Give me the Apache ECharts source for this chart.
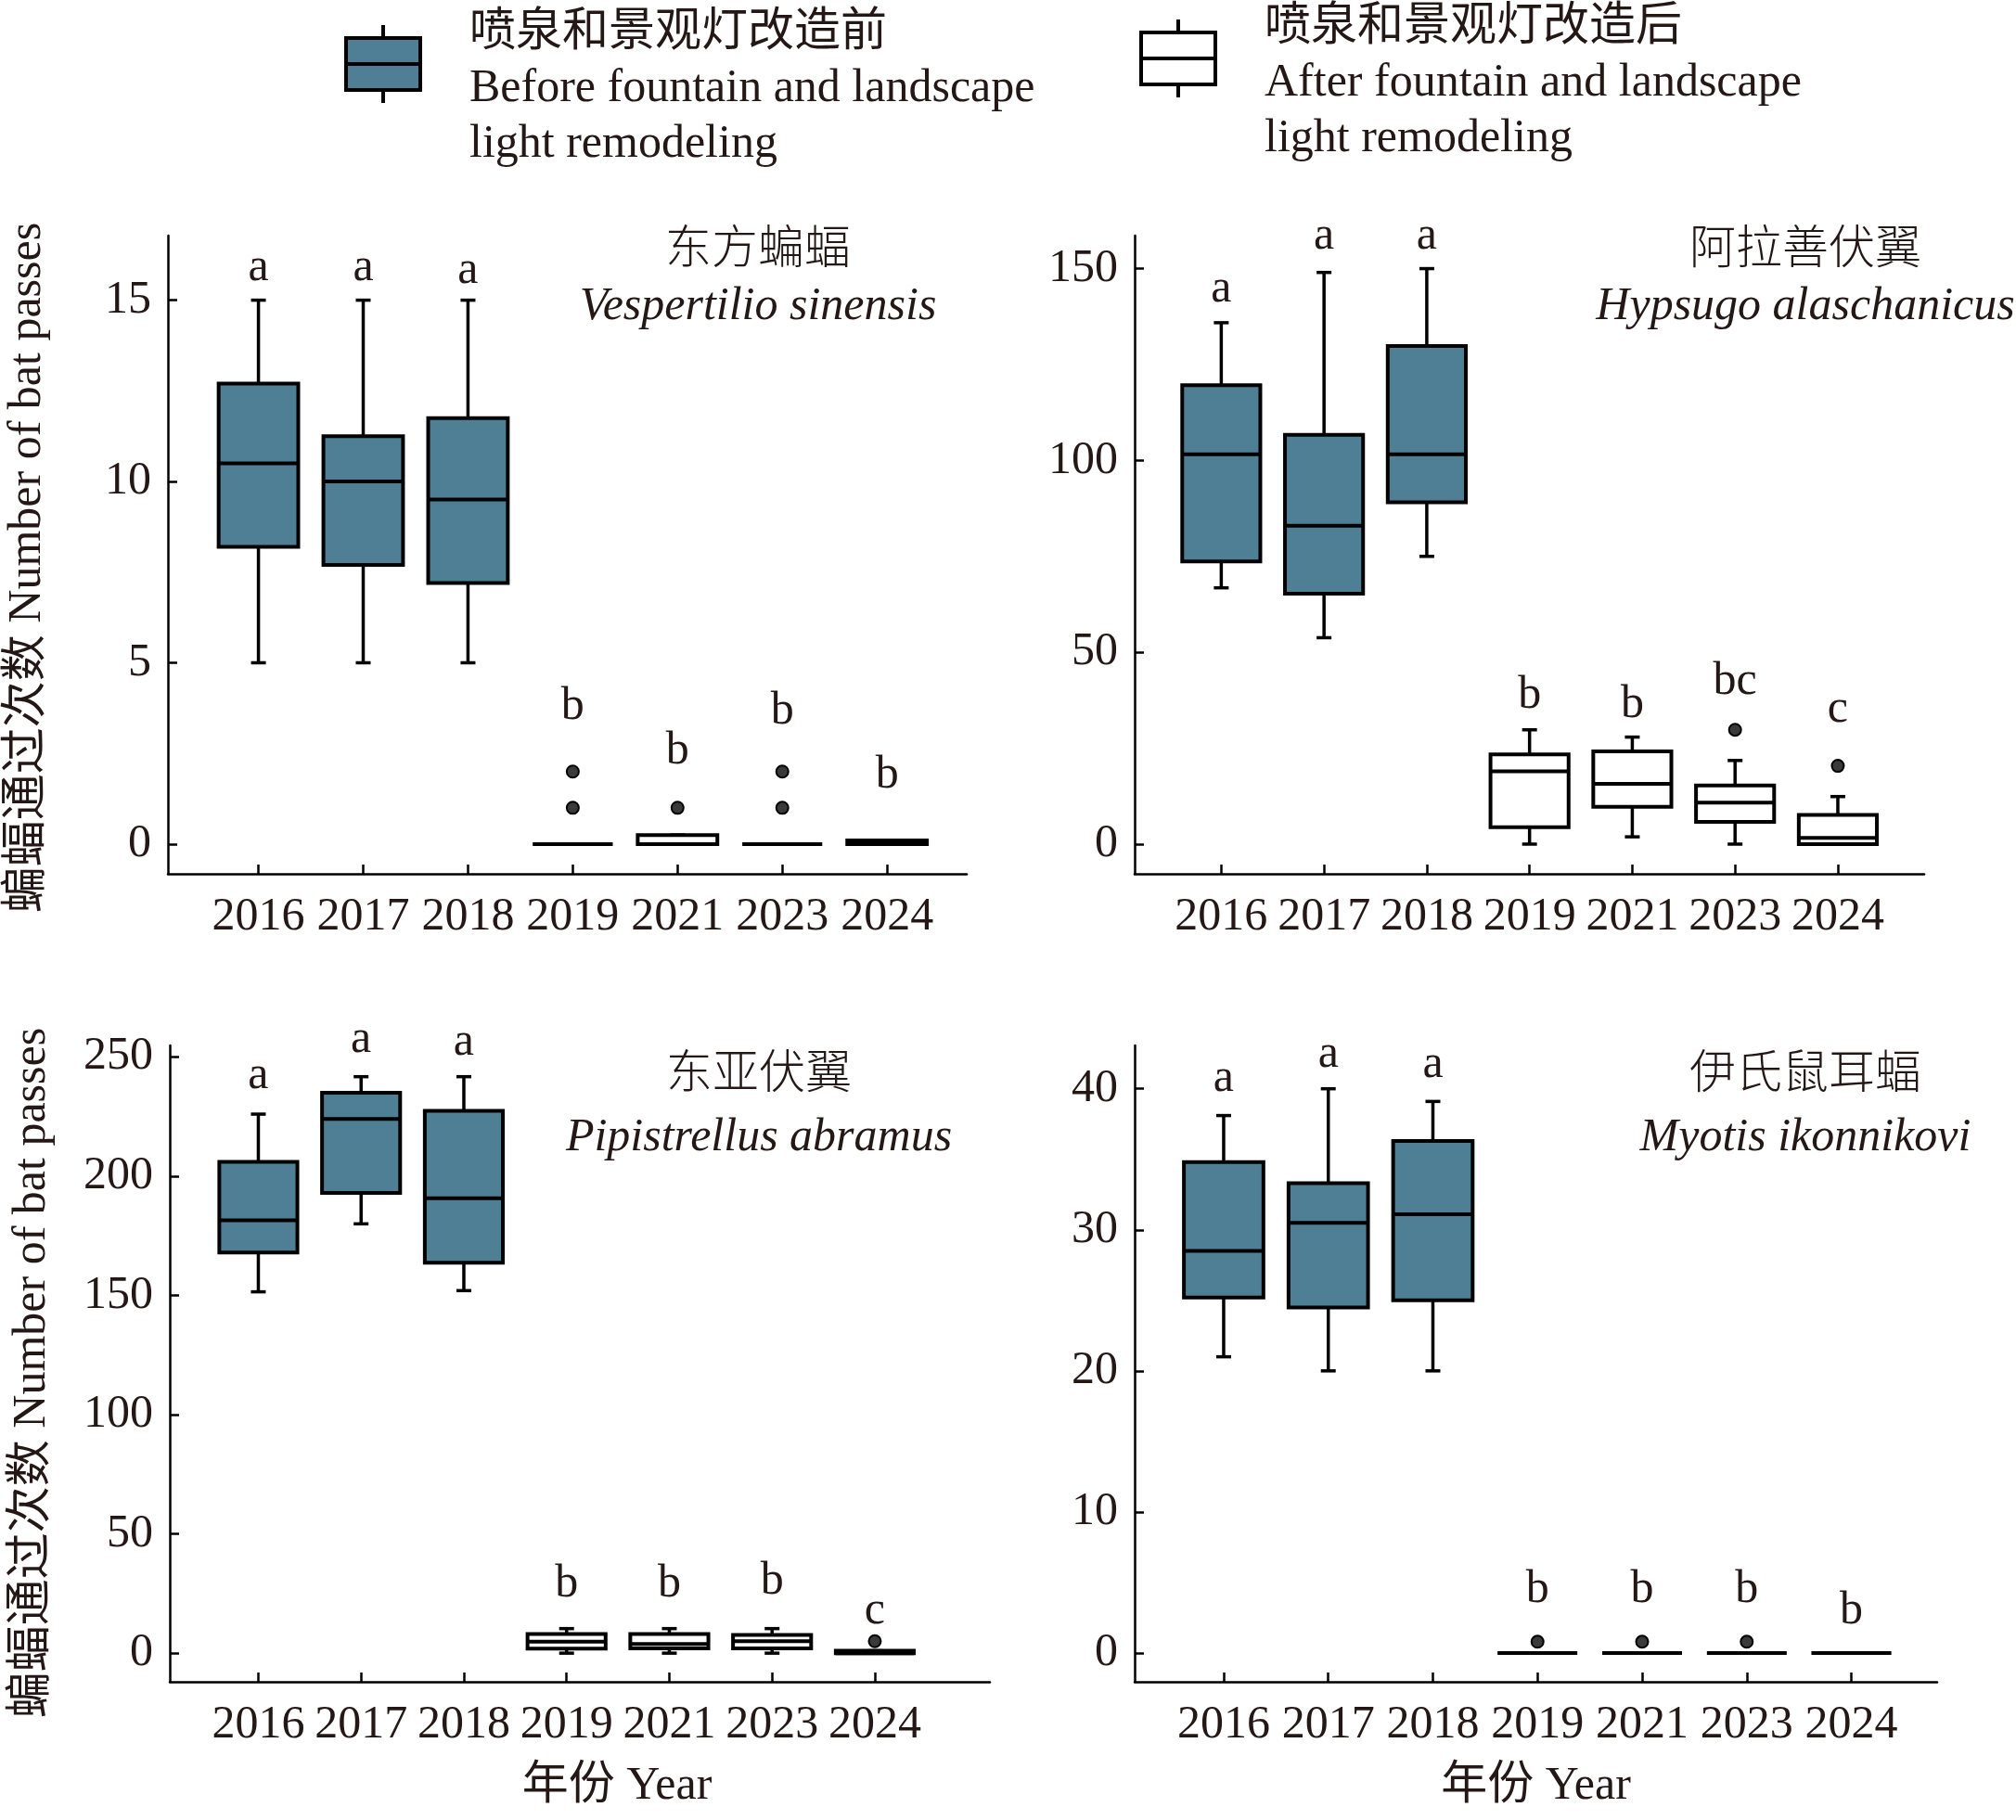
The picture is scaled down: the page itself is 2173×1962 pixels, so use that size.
<!DOCTYPE html>
<html>
<head>
<meta charset="utf-8">
<script src="https://cdn.jsdelivr.net/npm/echarts@6/dist/echarts.min.js"></script>
<style>
  html, body { margin: 0; padding: 0; background: #fff; }
  #chart { width: 2173px; height: 1962px; }
</style>
</head>
<body>
<div id="chart"></div>
<script>
// x axis categories (years); the first three are before the remodeling
const years = ['2016', '2017', '2018', '2019', '2021', '2023', '2024'];
const beforeCount = 3;

// [min, Q1, median, Q3, max] per year
const sinensisBox = [
  [5, 8.2, 10.5, 12.7, 15],
  [5, 7.7, 10, 11.25, 15],
  [5, 7.2, 9.5, 11.75, 15],
  [0, 0, 0, 0, 0],
  [0, 0, 0, 0.25, 0.25],
  [0, 0, 0, 0, 0],
  [0, 0, 0, 0.1, 0.1]
];
const hypsugoBox = [
  [66.8, 73.7, 101.6, 119.6, 135.9],
  [53.8, 65.3, 83, 106.7, 149],
  [75, 89.1, 101.6, 129.8, 150],
  [0, 4.4, 19, 23.4, 29.8],
  [1.9, 9.7, 15.7, 24.2, 27.9],
  [0, 5.8, 10.8, 15.3, 21.8],
  [0, 0, 1.6, 7.6, 12.4]
];
const abramusBox = [
  [151.5, 168, 181.5, 206, 226],
  [180, 193, 224, 235, 241.7],
  [152, 163.7, 190.7, 227.4, 241.7],
  [0, 1.9, 4.8, 8, 10.3],
  [0, 2, 3.8, 8, 10.3],
  [0, 2, 5, 7.6, 10.3],
  [0, 0, 0, 1, 1]
];
const ikonnikoviBox = [
  [21, 25.2, 28.5, 34.8, 38.1],
  [20, 24.5, 30.5, 33.3, 40],
  [20, 25, 31.1, 36.3, 39.1],
  [0, 0, 0, 0, 0],
  [0, 0, 0, 0, 0],
  [0, 0, 0, 0, 0],
  [0, 0, 0, 0, 0]
];

// outliers: [year index, value]
const sinensisOut = [[3, 1], [3, 2], [4, 1], [5, 1], [5, 2]];
const hypsugoOut = [[5, 29.8], [6, 20.4]];
const abramusOut = [[6, 5]];
const ikonnikoviOut = [[3, 0.8], [4, 0.8], [5, 0.8]];

// significance letters and the height (in axis units) they sit at
const sinensisSig = ['a', 'a', 'a', 'b', 'b', 'b', 'b'];
const sinensisSigY = [15.9, 15.9, 15.8, 3.8, 2.55, 3.65, 1.9];
const hypsugoSig = ['a', 'a', 'a', 'b', 'b', 'bc', 'c'];
const hypsugoSigY = [144.6, 158.4, 158.4, 38.8, 36.4, 42.4, 35.2];
const abramusSig = ['a', 'a', 'a', 'b', 'b', 'b', 'c'];
const abramusSigY = [242, 257, 256, 28.7, 28.7, 30, 17.7];
const ikonnikoviSig = ['a', 'a', 'a', 'b', 'b', 'b', 'b'];
const ikonnikoviSigY = [40.7, 42.4, 41.7, 4.5, 4.5, 4.5, 2.95];

// y tick labels
const sinensisTicks = [0, 5, 10, 15];
const hypsugoTicks = [0, 50, 100, 150];
const abramusTicks = [0, 50, 100, 150, 200, 250];
const ikonnikoviTicks = [0, 10, 20, 30, 40];

const TEXT = '#231815';
const TEAL = '#4e7f94';
const FONT = '"Liberation Serif", "Noto Sans CJK SC", serif';
const BOX_W = 0.76; // box width in x units
const CAP = 8;      // half width of whisker caps, px

const panels = [
  { cn: '东方蝙蝠', latin: 'Vespertilio sinensis', box: sinensisBox, out: sinensisOut,
    sig: sinensisSig, sigY: sinensisSigY, ticks: sinensisTicks,
    grid: { left: 181, top: 254, right: 1131, bottom: 1020 },
    x: [0.136, 7.76], y: [-0.82, 16.78], title: [817, 246, 10], yName: [126, 28], xName: 0 },
  { cn: '阿拉善伏翼', latin: 'Hypsugo alaschanicus', box: hypsugoBox, out: hypsugoOut,
    sig: hypsugoSig, sigY: hypsugoSigY, ticks: hypsugoTicks,
    grid: { left: 1223, top: 254, right: 99, bottom: 1020 },
    x: [0.157, 7.84], y: [-7.74, 158.6], title: [1946, 246, 10], yName: null, xName: 0 },
  { cn: '东亚伏翼', latin: 'Pipistrellus abramus', box: abramusBox, out: abramusOut,
    sig: abramusSig, sigY: abramusSigY, ticks: abramusTicks,
    grid: { left: 183, top: 1127, right: 1106, bottom: 149 },
    x: [0.138, 8.12], y: [-12, 254.8], title: [818, 1135, 17], yName: [123, 20], xName: 80 },
  { cn: '伊氏鼠耳蝠', latin: 'Myotis ikonnikovi', box: ikonnikoviBox, out: ikonnikoviOut,
    sig: ikonnikoviSig, sigY: ikonnikoviSigY, ticks: ikonnikoviTicks,
    grid: { left: 1223, top: 1127, right: 85, bottom: 149 },
    x: [0.149, 7.82], y: [-2.04, 43.07], title: [1946, 1135, 17], yName: null, xName: 0 }
];

function renderBox(params, api) {
  const x = api.value(0);
  const lo = api.coord([x, api.value(1)]);
  const q1 = api.coord([x, api.value(2)]);
  const md = api.coord([x, api.value(3)]);
  const q3 = api.coord([x, api.value(4)]);
  const hi = api.coord([x, api.value(5)]);
  const half = api.size([BOX_W, 0])[0] / 2;
  const ls = { stroke: '#000', lineWidth: 3.5 };
  return {
    type: 'group',
    children: [
      { type: 'line', shape: { x1: hi[0], y1: hi[1], x2: q3[0], y2: q3[1] }, style: ls },
      { type: 'line', shape: { x1: lo[0], y1: lo[1], x2: q1[0], y2: q1[1] }, style: ls },
      { type: 'line', shape: { x1: hi[0] - CAP, y1: hi[1], x2: hi[0] + CAP, y2: hi[1] }, style: ls },
      { type: 'line', shape: { x1: lo[0] - CAP, y1: lo[1], x2: lo[0] + CAP, y2: lo[1] }, style: ls },
      { type: 'rect', shape: { x: q3[0] - half, y: q3[1], width: half * 2, height: q1[1] - q3[1] },
        style: { fill: api.visual('color'), stroke: '#000', lineWidth: 4 } },
      { type: 'line', shape: { x1: md[0] - half, y1: md[1], x2: md[0] + half, y2: md[1] },
        style: { stroke: '#000', lineWidth: 4 } }
    ]
  };
}

const option = {
  animation: false,
  backgroundColor: '#fff',
  title: [], grid: [], xAxis: [], yAxis: [], series: [],
  legend: []
};

// box glyph on top, an empty point lower down so the text sits below the glyph centre
const legendIcon = 'path://M40,0L40,14M0,14L80,14L80,70L0,70ZM0,42L80,42M40,70L40,84M0,138L0,138';
const legendText = {
  before: '喷泉和景观灯改造前\nBefore fountain and landscape\nlight remodeling',
  after: '喷泉和景观灯改造后\nAfter fountain and landscape\nlight remodeling'
};
[['before', TEAL, 371, 6], ['after', '#fff', 1228, 0]].forEach(([key, fill, left, top]) => {
  option.legend.push({
    left: left, top: top, padding: 0, selectedMode: false,
    itemWidth: 80, itemHeight: 138,
    data: [{ name: key, icon: legendIcon, itemStyle: { color: fill, borderColor: '#000', borderWidth: 4 } }],
    formatter: n => legendText[n],
    textStyle: { fontSize: 50, lineHeight: 60, fontFamily: FONT, color: TEXT, padding: [0, 0, 0, 48] }
  });
});

panels.forEach((p, i) => {
  option.title.push({
    text: p.cn, subtext: p.latin, left: p.title[0], top: p.title[1], textAlign: 'center',
    padding: 0, itemGap: p.title[2],
    textStyle: { fontSize: 50, fontWeight: 300, color: TEXT, fontFamily: FONT },
    subtextStyle: { fontSize: 50, fontStyle: 'italic', color: TEXT, fontFamily: FONT }
  });
  option.grid.push(p.grid);
  const xVals = years.map((_, k) => k + 1);
  option.xAxis.push({
    gridIndex: i, type: 'value', min: p.x[0], max: p.x[1],
    axisLine: { show: true, onZero: false, lineStyle: { color: '#000', width: 2.5 } },
    axisTick: { show: true, inside: true, length: 10, customValues: xVals, lineStyle: { color: '#000', width: 2.5 } },
    axisLabel: { customValues: xVals, formatter: v => years[Math.round(v) - 1], fontSize: 50,
      fontFamily: FONT, color: TEXT, margin: 22 },
    splitLine: { show: false },
    name: i >= 2 ? '年份 Year' : '', nameLocation: 'middle', nameGap: 88,
    nameTextStyle: { fontSize: 50, fontFamily: FONT, color: TEXT, padding: [0, 0, 0, p.xName] }
  });
  option.yAxis.push({
    gridIndex: i, type: 'value', min: p.y[0], max: p.y[1],
    axisLine: { show: true, onZero: false, lineStyle: { color: '#000', width: 2.5 } },
    axisTick: { show: true, inside: true, length: 10, customValues: p.ticks, lineStyle: { color: '#000', width: 2.5 } },
    axisLabel: { customValues: p.ticks, fontSize: 50, fontFamily: FONT, color: TEXT, margin: 18 },
    splitLine: { show: false },
    name: p.yName ? '蝙蝠通过次数 Number of bat passes' : '', nameLocation: 'middle',
    nameGap: p.yName ? p.yName[0] : 0,
    nameTextStyle: { fontSize: 50, fontFamily: FONT, color: TEXT, padding: [0, p.yName ? p.yName[1] : 0, 0, 0] }
  });

  const rows = p.box.map((b, k) => [k + 1].concat(b));
  [['before', rows.slice(0, beforeCount), TEAL], ['after', rows.slice(beforeCount), '#fff']].forEach(([name, data, fill]) => {
    option.series.push({
      type: 'custom', name: name, xAxisIndex: i, yAxisIndex: i,
      renderItem: renderBox, itemStyle: { color: fill },
      encode: { x: 0, y: [1, 2, 3, 4, 5] },
      data: data, z: 2
    });
  });
  option.series.push({
    type: 'scatter', name: 'outlier', xAxisIndex: i, yAxisIndex: i, z: 3,
    symbolSize: 13, itemStyle: { color: '#3a3a3a', borderColor: '#000', borderWidth: 2, opacity: 1 },
    data: p.out.map(o => [o[0] + 1, o[1]])
  });
  option.series.push({
    type: 'custom', name: 'letters', xAxisIndex: i, yAxisIndex: i, z: 4, clip: false,
    encode: { x: 0, y: 1 },
    data: p.sigY.map((v, k) => [k + 1, v]),
    renderItem: (params, api) => {
      const pt = api.coord([api.value(0), api.value(1)]);
      return {
        type: 'text', x: pt[0], y: pt[1],
        style: { text: p.sig[params.dataIndex], fill: TEXT, font: '50px ' + FONT,
          align: 'center', verticalAlign: 'middle' }
      };
    }
  });
});

const chart = echarts.init(document.getElementById('chart'));
chart.setOption(option);
</script>
</body>
</html>
